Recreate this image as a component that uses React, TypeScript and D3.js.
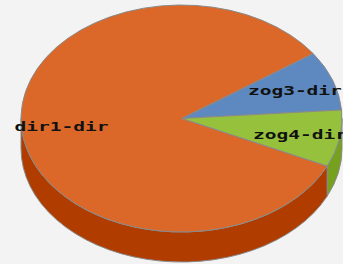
import React from "react";
import * as d3 from "d3";

const categories = ["zog3-dir", "zog4-dir", "dir1-dir"];
const values = [8.5, 8.1, 83.4];
const topColors = ["#5E89C0", "#96C13C", "#DB6828"];
const sideColors = ["#43699c", "#76A11E", "#B03C00"];

const W = 343;
const H = 264;
const cx = 181.5;
const cy = 118.5;
const rx = 160.5;
const ry = 113.5;
const depth = 30;
const startDeg = -34.9; // screen angle (from +x, clockwise) where first slice starts

function pt(t: number, dy = 0): [number, number] {
  return [cx + rx * Math.cos(t), cy + ry * Math.sin(t) + dy];
}

export default function App() {
  const pie = d3
    .pie<number>()
    .sort(null)
    .startAngle(((startDeg + 90) * Math.PI) / 180)
    .endAngle(((startDeg + 90) * Math.PI) / 180 + 2 * Math.PI);
  const arcs = pie(values);
  const slices = arcs.map((a, i) => ({
    t0: a.startAngle - Math.PI / 2,
    t1: a.endAngle - Math.PI / 2,
    i,
  }));

  const sides: { d: string; fill: string }[] = [];
  slices.forEach((s) => {
    for (let k = -1; k <= 1; k++) {
      const lo = Math.max(s.t0, 2 * Math.PI * k);
      const hi = Math.min(s.t1, 2 * Math.PI * k + Math.PI);
      if (hi > lo + 1e-6) {
        const a = pt(lo);
        const b = pt(hi);
        const b2 = pt(hi, depth);
        const a2 = pt(lo, depth);
        const large = hi - lo > Math.PI ? 1 : 0;
        sides.push({
          d: `M${a[0]},${a[1]} A${rx},${ry} 0 ${large} 1 ${b[0]},${b[1]} L${b2[0]},${b2[1]} A${rx},${ry} 0 ${large} 0 ${a2[0]},${a2[1]} Z`,
          fill: sideColors[s.i],
        });
      }
    }
  });

  const tops = slices.map((s) => {
    const a = pt(s.t0);
    const b = pt(s.t1);
    const large = s.t1 - s.t0 > Math.PI ? 1 : 0;
    return {
      d: `M${cx},${cy} L${a[0]},${a[1]} A${rx},${ry} 0 ${large} 1 ${b[0]},${b[1]} Z`,
      fill: topColors[s.i],
    };
  });

  const labels = slices.map((s) => {
    const m = (s.t0 + s.t1) / 2;
    const r = 0.75;
    return {
      x: cx + rx * r * Math.cos(m),
      y: cy + ry * r * Math.sin(m),
      text: categories[s.i],
    };
  });

  return (
    <svg
      width={W}
      height={H}
      style={{ position: "fixed", left: 0, top: 0, background: "#f3f3f3" }}
    >
      {sides.map((s, i) => (
        <path key={"s" + i} d={s.d} fill={s.fill} stroke="#8a8a8a" strokeWidth={1} />
      ))}
      {tops.map((s, i) => (
        <path key={"t" + i} d={s.d} fill={s.fill} stroke="#8a8a8a" strokeWidth={1} strokeLinejoin="round" />
      ))}
      {labels.map((l, i) => (
        <text
          key={"l" + i}
          x={l.x}
          y={l.y + 5}
          textAnchor="middle"
          fontFamily="DejaVu Sans Mono"
          fontWeight="bold"
          fontSize={13}
          textLength={94}
          lengthAdjust="spacingAndGlyphs"
          fill="#111"
        >
          {l.text}
        </text>
      ))}
    </svg>
  );
}
